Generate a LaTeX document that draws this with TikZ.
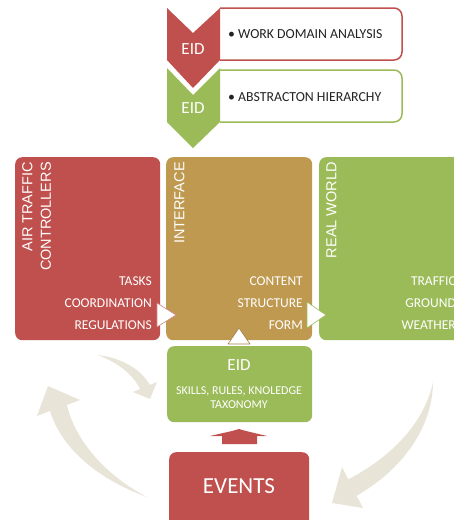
\documentclass[tikz,border=0pt]{standalone}
\usepackage{fontspec}
\setmainfont{Carlito}
\newfontfamily\titlefont{Liberation Sans}
\usepackage{xcolor}

\definecolor{eidred}{RGB}{192,80,77}
\definecolor{eidgreen}{RGB}{155,187,89}
\definecolor{eidtan}{RGB}{191,153,80}
\definecolor{loopbeige}{RGB}{232,229,216}
\definecolor{listtext}{RGB}{35,35,35}

\tikzset{
    panel/.style = {rounded corners = 7pt, inner sep = 0pt, anchor = north west},
    paneltitle/.style = {rotate = 90, anchor = north east, align = right, inner sep = 0pt,
        text = white, font = \titlefont\fontsize{14.5}{18.5}\selectfont},
    item/.style = {anchor = east, inner sep = 0pt, text = white, font = \fontsize{13.5}{16}\selectfont},
    listitem/.style = {anchor = west, inner sep = 0pt, text = listtext, font = \fontsize{13.8}{16}\selectfont},
    chevlabel/.style = {text = white, font = \fontsize{17}{20}\selectfont},
    pointer/.style = {fill = white, line width = 0.6pt, line join = round},
}

\begin{document}
\begin{tikzpicture}[x = 1pt, y = -1pt]
        \useasboundingbox (0,0) rectangle (454,520);

        % Loop arrows
        \fill[loopbeige] (97,355) .. controls (125,358) and (143,372) .. (149.8,385)
            -- (157,382) -- (150,399) -- (133,392) -- (140.2,389)
            .. controls (133,375) and (118,362) .. (97,355);
        \fill[loopbeige] (147,497) .. controls (100,480) and (62,450) .. (50,411)
            -- (37,416) -- (48,386) -- (80,400) -- (67,405)
            .. controls (75,440) and (105,475) .. (147,497);
        \fill[loopbeige] (433,382) .. controls (433,420) and (410,465) .. (356.7,495.7)
            -- (363,508) -- (332,503) -- (342,467) -- (348.3,479.3)
            .. controls (395,455) and (425,420) .. (433,382);

        % List on top
        \draw[eidred, line width = 1.5pt, fill = white, rounded corners = 8pt]
            (220,60) -- (402,60) -- (402,8) -- (220,8);
        \draw[eidgreen, line width = 1.5pt, fill = white, rounded corners = 8pt]
            (220,122) -- (402,122) -- (402,70) -- (220,70);
        \fill[eidred] (167,8) -- (193,33) -- (220,8) -- (220,60) -- (193,88) -- (167,60) -- cycle;
        \fill[eidgreen] (167,68) -- (193,95) -- (220,68) -- (220,122) -- (193,148) -- (167,122) -- cycle;
        \node[chevlabel] (eidone) at (193,49) {EID};
        \node[chevlabel] (eidtwo) at (193,108) {EID};
        \node[listitem] (wda) at (228,34) {\textbullet\ WORK DOMAIN ANALYSIS};
        \node[listitem] (ah) at (228,97) {\textbullet\ ABSTRACTON HIERARCHY};

        % Three panels
        \node[panel, fill = eidred, minimum width = 145pt, minimum height = 183pt] (atc) at (15,157) {};
        \node[panel, fill = eidtan, minimum width = 146pt, minimum height = 183pt] (iface) at (166,157) {};
        \node[panel, fill = eidgreen, minimum width = 147pt, minimum height = 183pt] (world) at (319,157) {};

        \node[paneltitle] (atctitle) at (22,162) {AIR TRAFFIC\\CONTROLLERS};
        \node[paneltitle] (ifacetitle) at (174,162) {INTERFACE};
        \node[paneltitle] (worldtitle) at (326,162) {REAL WORLD};

        \node[item] (tasks) at (152,281) {TASKS};
        \node[item] (coord) at (152,303) {COORDINATION};
        \node[item] (regs) at (152,325) {REGULATIONS};
        \node[item] (content) at (303,281) {CONTENT};
        \node[item] (struct) at (303,303) {STRUCTURE};
        \node[item] (form) at (303,325) {FORM};
        \node[item] (traffic) at (456,281) {TRAFFIC};
        \node[item] (ground) at (456,303) {GROUND};
        \node[item] (weather) at (456,325) {WEATHER};

        % EID taxonomy and events
        \node[panel, fill = eidgreen, minimum width = 145pt, minimum height = 76pt] (taxo) at (167,346) {};
        \node[chevlabel] (eidthree) at (239,365) {EID};
        \node[text = white, align = center, font = \fontsize{12}{14}\selectfont] (srk) at (239,398)
            {SKILLS, RULES, KNOLEDGE\\TAXONOMY};
        \node[panel, fill = eidred, minimum width = 140pt, minimum height = 80pt] (events) at (169,452) {};
        \node[text = white, font = \fontsize{23}{26}\selectfont] (eventstext) at (239,486) {EVENTS};

        % Pointers
        \draw[pointer, draw = eidred!70] (157,303) -- (176,315) -- (157,327) -- cycle;
        \draw[pointer, draw = eidgreen] (307,302) -- (326,315) -- (307,328) -- cycle;
        \draw[pointer, draw = eidtan!85!black] (228,344) -- (239,328) -- (250,344) -- cycle;
        \fill[eidred] (210,436) -- (232,431) -- (239,429) -- (246,431) -- (267,436) -- (257,436)
            -- (257,444) -- (222,444) -- (222,436) -- cycle;
    \end{tikzpicture}
\end{document}
